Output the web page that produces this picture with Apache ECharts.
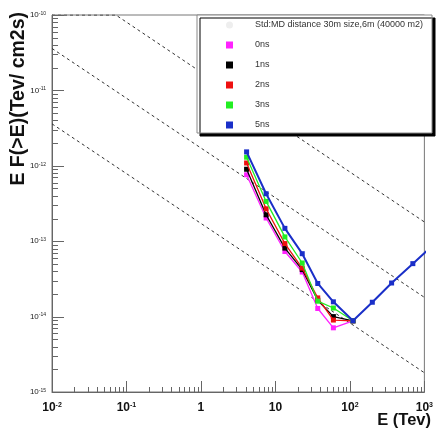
<!DOCTYPE html>
<html>
<head>
<meta charset="utf-8">
<script src="https://cdn.jsdelivr.net/npm/echarts@6/dist/echarts.min.js"></script>
<style>
  html, body { margin: 0; padding: 0; background: #fff; }
  #chart { width: 436px; height: 429px; }
</style>
</head>
<body>
<div id="chart"></div>
<script>
// energy bins (TeV)
const E_BINS = [4.1, 7.5, 13.4, 22.9, 37, 60, 110, 200, 363, 700, 1300]

// E F(>E) for each time resolution
const F_0NS = [7.6e-13, 2.03e-13, 7.3e-14, 3.9e-14, 1.28e-14, 7.1e-15, 8.8e-15]
const F_1NS = [9.0e-13, 2.24e-13, 8.1e-14, 4.2e-14, 1.65e-14, 1.0e-14, 8.8e-15]
const F_2NS = [1.09e-12, 2.69e-13, 9.3e-14, 4.4e-14, 1.77e-14, 9.0e-15, 8.8e-15]
const F_3NS = [1.3e-12, 3.37e-13, 1.14e-13, 5.14e-14, 1.6e-14, 1.3e-14, 8.8e-15]
const F_5NS = [1.53e-12, 4.26e-13, 1.48e-13, 6.83e-14, 2.75e-14, 1.57e-14, 8.8e-15, 1.55e-14, 2.79e-14, 5.04e-14, 8.8e-14]

// reference (dashed) flux lines
const REF_1 = [[0.01, 1e-10], [0.072, 1e-10], [1000, 1.8e-13]]
const REF_2 = [[0.01, 3.6e-11], [1000, 1.8e-14]]
const REF_3 = [[0.01, 3.6e-12], [1000, 1.8e-15]]

const STD_NAME = 'Std:MD distance 30m size,6m (40000 m2)'
const SERIES_NAMES = ['0ns', '1ns', '2ns', '3ns', '5ns']
const SERIES_COLORS = ['#ff22ff', '#000000', '#ee1111', '#22ee22', '#1a2fc8']
const SERIES_VALUES = [F_0NS, F_1NS, F_2NS, F_3NS, F_5NS]

const X_DECADES = [-2, -1, 0, 1, 2]
const Y_DECADES = [-15, -14, -13, -12, -11]
const MINOR_MULTS = [2, 3, 4, 5, 6, 7, 8, 9]

function zip (xs, ys) {
  return ys.map((y, i) => [xs[i], y])
}

// tick marks drawn inside the frame, ROOT style
function buildTicks () {
  const ticks = []
  X_DECADES.forEach(d => {
    const base = Math.pow(10, d)
    ticks.push([base, 1e-15, 1])
    MINOR_MULTS.forEach(m => ticks.push([base * m, 1e-15, 0]))
  })
  ticks.push([1000, 1e-15, 1])
  Y_DECADES.forEach(d => {
    const base = Math.pow(10, d)
    ticks.push([0.01, base, 3])
    MINOR_MULTS.forEach(m => ticks.push([0.01, base * m, 2]))
  })
  ticks.push([0.01, 1e-10, 3])
  return ticks
}

function powLabel (v, alwaysPow) {
  const e = Math.round(Math.log10(v))
  if (!alwaysPow && e === 0) return '{b|1}'
  if (!alwaysPow && e === 1) return '{b|10}'
  return '{b|10}{s|' + e + '}'
}

const chart = echarts.init(document.getElementById('chart'))

const series = []
;[REF_1, REF_2, REF_3].forEach(pts => {
  series.push({
    name: STD_NAME,
    type: 'line',
    data: pts,
    symbol: 'none',
    color: '#eeeeee',
    lineStyle: { color: '#333', width: 1, type: [3, 3] },
    z: 1,
    silent: true
  })
})
SERIES_VALUES.forEach((vals, i) => {
  series.push({
    name: SERIES_NAMES[i],
    type: 'line',
    data: zip(E_BINS, vals),
    symbol: 'rect',
    symbolSize: 5,
    color: SERIES_COLORS[i],
    lineStyle: { width: i === 4 ? 2 : 1.3 },
    z: 3 + i
  })
})
series.push({
  type: 'custom',
  data: buildTicks(),
  clip: false,
  silent: true,
  z: 2,
  encode: { x: 0, y: 1 },
  renderItem (params, api) {
    const p = api.coord([api.value(0), api.value(1)])
    const kind = api.value(2)
    let shape
    if (kind < 2) {
      const x = Math.round(p[0]) + 0.5
      shape = { x1: x, y1: p[1], x2: x, y2: p[1] - (kind === 1 ? 11 : 5) }
    } else {
      const y = Math.round(p[1]) + 0.5
      shape = { x1: p[0], y1: y, x2: p[0] + (kind === 3 ? 12 : 6), y2: y }
    }
    return { type: 'line', shape, style: { stroke: '#666', lineWidth: 1 } }
  }
})

const option = {
  animation: false,
  backgroundColor: '#fff',
  grid: {
    left: 52, right: 5, top: 15, bottom: 37,
    show: true, borderColor: '#777', borderWidth: 1, backgroundColor: 'transparent'
  },
  xAxis: {
    type: 'log',
    logBase: 10,
    min: 0.01,
    max: 1000,
    axisLine: { lineStyle: { color: '#666' } },
    axisTick: { show: false },
    splitLine: { show: false },
    axisLabel: {
      margin: 10,
      formatter: v => powLabel(v, false),
      rich: {
        b: { fontFamily: 'Liberation Sans', fontSize: 12, fontWeight: 'bold', color: '#111', verticalAlign: 'bottom' },
        s: { fontFamily: 'Liberation Sans', fontSize: 7, fontWeight: 'bold', color: '#111', verticalAlign: 'top' }
      }
    }
  },
  yAxis: {
    type: 'log',
    logBase: 10,
    min: 1e-15,
    max: 1e-10,
    axisLine: { show: true, lineStyle: { color: '#666' } },
    axisTick: { show: false },
    splitLine: { show: false },
    axisLabel: {
      margin: 6,
      formatter: v => powLabel(v, true),
      rich: {
        b: { fontFamily: 'Liberation Sans', fontSize: 8, color: '#222', verticalAlign: 'bottom' },
        s: { fontFamily: 'Liberation Sans', fontSize: 5, color: '#222', verticalAlign: 'top' }
      }
    }
  },
  legend: {
    orient: 'vertical',
    left: 221,
    top: 15,
    z: 10,
    selectedMode: false,
    itemWidth: 7,
    itemHeight: 7,
    itemGap: 10,
    textStyle: {
      fontFamily: 'Liberation Sans',
      fontSize: 9,
      color: '#333',
      lineHeight: 10,
      padding: [0, 0, 0, 17]
    },
    data: [
      { name: STD_NAME, icon: 'circle', itemStyle: { color: '#eeeeee' } }
    ].concat(SERIES_NAMES.map(n => ({ name: n, icon: 'rect' })))
  },
  graphic: [
    {
      type: 'rect',
      z: 8,
      shape: { x: 197, y: 15, width: 235, height: 118 },
      style: {
        fill: '#fff', stroke: '#888', lineWidth: 1,
        shadowColor: '#000', shadowOffsetX: 3, shadowOffsetY: 3, shadowBlur: 0.1
      }
    },
    {
      type: 'text',
      x: 19,
      y: 12,
      rotation: Math.PI / 2,
      z: 8,
      style: {
        text: 'E F(>E)(Tev/ cm2s)',
        font: 'bold 19.5px "Liberation Sans"',
        fill: '#111',
        textAlign: 'right',
        textVerticalAlign: 'middle'
      }
    },
    {
      type: 'text',
      x: 431,
      y: 420,
      z: 8,
      style: {
        text: 'E (Tev)',
        font: 'bold 16.5px "Liberation Sans"',
        fill: '#111',
        textAlign: 'right',
        textVerticalAlign: 'middle'
      }
    }
  ],
  series
}

chart.setOption(option)
</script>
</body>
</html>
